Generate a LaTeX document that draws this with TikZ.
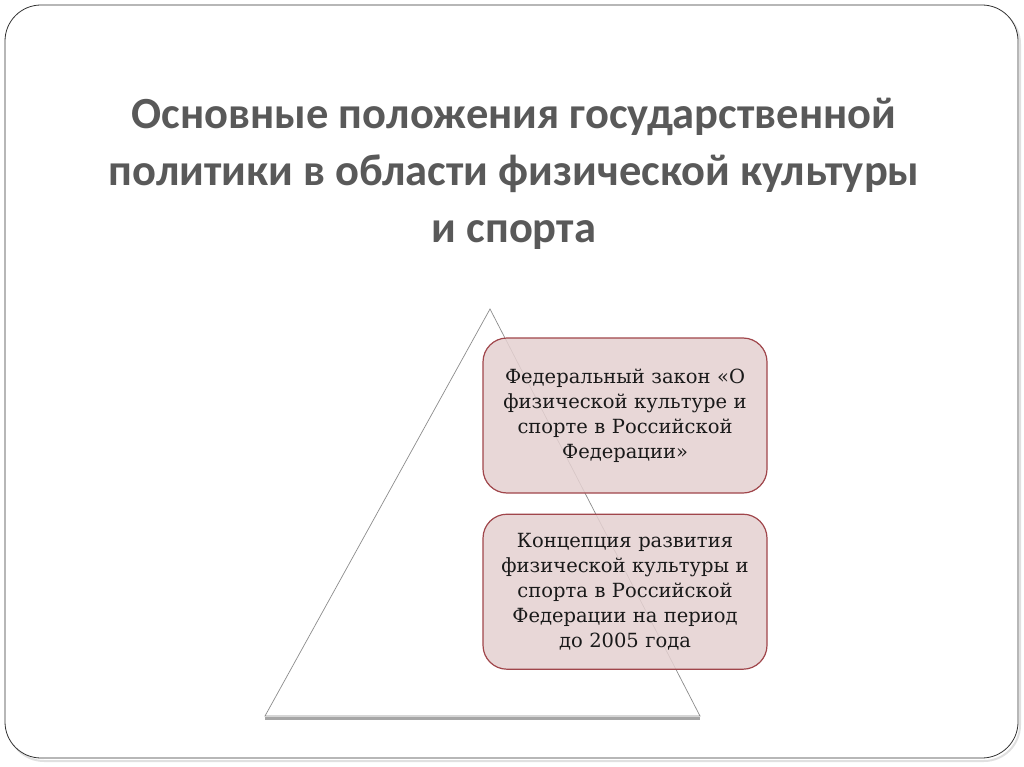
\documentclass[tikz,border=0pt]{standalone}
\usepackage{fontspec}
\setmainfont{DejaVu Serif}
\newfontfamily\titlefont{Carlito}
\usetikzlibrary{positioning}
\usetikzlibrary{shadows}

\definecolor{titlegray}{HTML}{595959}
\definecolor{boxfill}{HTML}{E5D1D1}
\definecolor{boxline}{HTML}{A0464B}

\begin{document}
\begin{tikzpicture}
            [
                x=1pt, y=-1pt,
                title/.style={align=center, font=\titlefont\fontsize{44.5}{57}\selectfont\bfseries, text=titlegray},
                lawbox/.style={rectangle, rounded corners=24pt, draw=boxline, line width=1.2pt, fill=boxfill, fill opacity=0.85, text opacity=1,
                               minimum width=284pt, minimum height=155pt, align=center, text width=275pt,
                               font=\fontsize{19.5}{25}\selectfont, text=black!90},
                pyramid/.style={draw=black!45, line width=0.7pt}
            ]
            \useasboundingbox (0,0) rectangle (1024,767);
            %frame
            \draw[black!12, line width=2pt, rounded corners=36pt] (8,8) rectangle (1020,761);
            \draw[black!80, line width=0.8pt, fill=white, rounded corners=36pt] (5,5) rectangle (1018,758);
            %triangle
            \coordinate (apex)  at (490,309);
            \coordinate (baseL) at (265,716);
            \coordinate (baseR) at (700,716);
            \draw[black!35, line width=3pt] ([yshift=-2pt]baseL) -- ([yshift=-2pt]baseR);
            \draw[pyramid] (baseL) -- (apex) -- (baseR) -- cycle;
            %nodes
            \node[title] at (514,174) (heading) {Основные положения государственной\\политики в области физической культуры\\и спорта};
            \node[lawbox] at (625,415.5) (law) {Федеральный закон «О\\физической культуре и\\спорте в Российской\\Федерации»};
            \node[lawbox, below=20pt of law] (concept) {Концепция развития\\физической культуры и\\спорта в Российской\\Федерации на период\\до 2005 года};
        \end{tikzpicture}
\end{document}
